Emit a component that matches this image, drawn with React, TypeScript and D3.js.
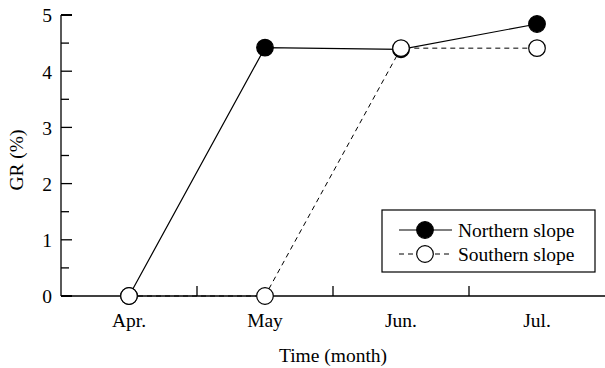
import React from "react";
import * as d3 from "d3";

const months = ["Apr.", "May", "Jun.", "Jul."];
const northern = [0, 4.42, 4.39, 4.84];
const southern = [0, 0, 4.41, 4.41];
const yMajor = [0, 1, 2, 3, 4, 5];
const yMinor = [0.5, 1.5, 2.5, 3.5, 4.5];

const W = 605;
const H = 368;
const FONT = "'Liberation Serif', 'Times New Roman', serif";
const FS = 19.5;

export default function App() {
  const x = d3.scaleBand<string>().domain(months).range([61, 605]);
  const y = d3.scaleLinear().domain([0, 5]).range([296, 15]);
  const cx = (m: string) => (x(m) as number) + x.bandwidth() / 2;
  const line = d3
    .line<number>()
    .x((_, i) => cx(months[i]))
    .y((d) => y(d));
  const boundaries = months.slice(1).map((m) => x(m) as number);
  const r = 8.3;

  return (
    <svg
      width={W}
      height={H}
      style={{ position: "absolute", left: 0, top: 0, background: "#fff" }}
      fontFamily={FONT}
    >
      {/* axes */}
      <line x1={61} x2={61} y1={y(5)} y2={y(0)} stroke="#000" strokeWidth={1.3} />
      <line x1={61} x2={605} y1={y(0)} y2={y(0)} stroke="#000" strokeWidth={1.3} />
      {yMajor.map((v) => (
        <g key={v}>
          <line x1={61} x2={72} y1={y(v)} y2={y(v)} stroke="#000" strokeWidth={v === 5 || v === 0 ? 2 : 1.3} />
          <text x={52} y={y(v)} dy="0.38em" textAnchor="end" fontSize={FS}>
            {v}
          </text>
        </g>
      ))}
      {yMinor.map((v) => (
        <line key={v} x1={61} x2={69} y1={y(v)} y2={y(v)} stroke="#000" strokeWidth={1.3} />
      ))}
      {boundaries.map((b) => (
        <line key={b} x1={b} x2={b} y1={y(0)} y2={y(0) - 10} stroke="#000" strokeWidth={1.3} />
      ))}
      {months.map((m) => (
        <text key={m} x={cx(m)} y={327} textAnchor="middle" fontSize={FS}>
          {m}
        </text>
      ))}
      <text x={333} y={362} textAnchor="middle" fontSize={FS}>
        Time (month)
      </text>
      <text
        transform={`translate(23,${160}) rotate(-90)`}
        textAnchor="middle"
        fontSize={FS}
      >
        GR (%)
      </text>

      {/* series */}
      <path d={line(southern) || ""} fill="none" stroke="#000" strokeWidth={1} strokeDasharray="5,4" />
      <path d={line(northern) || ""} fill="none" stroke="#000" strokeWidth={1.2} />
      {northern.map((v, i) => (
        <circle key={"n" + i} cx={cx(months[i])} cy={y(v)} r={r} fill="#000" stroke="#000" strokeWidth={1.2} />
      ))}
      {southern.map((v, i) => (
        <circle key={"s" + i} cx={cx(months[i])} cy={y(v)} r={r} fill="#fff" stroke="#000" strokeWidth={1.2} />
      ))}

      {/* legend */}
      <rect x={382} y={210} width={213} height={62} fill="#fff" stroke="#000" strokeWidth={1.2} />
      <line x1={399} x2={452} y1={230} y2={230} stroke="#000" strokeWidth={1.2} />
      <circle cx={425} cy={230} r={r} fill="#000" stroke="#000" strokeWidth={1.2} />
      <text x={458} y={230} dy="0.35em" fontSize={FS}>
        Northern slope
      </text>
      <line x1={399} x2={452} y1={254} y2={254} stroke="#000" strokeWidth={1} strokeDasharray="5,4" />
      <circle cx={425} cy={254} r={r} fill="#fff" stroke="#000" strokeWidth={1.2} />
      <text x={458} y={254} dy="0.35em" fontSize={FS}>
        Southern slope
      </text>
    </svg>
  );
}
